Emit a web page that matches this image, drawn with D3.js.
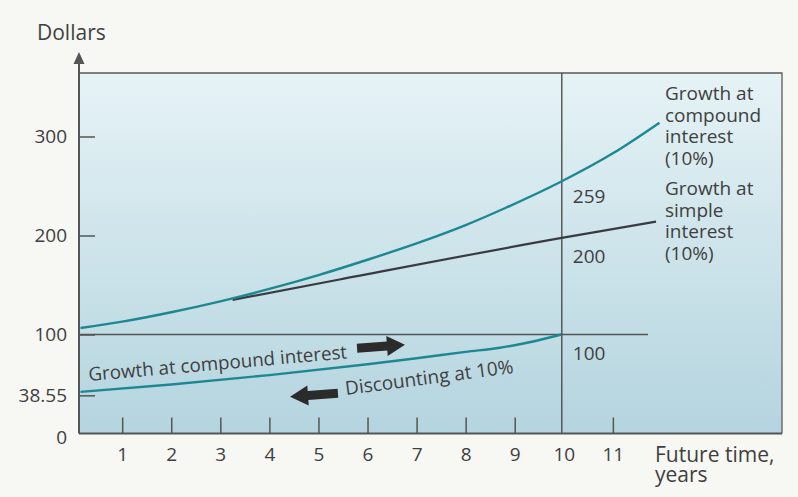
<!DOCTYPE html>
<html>
<head>
<meta charset="utf-8">
<script src="https://cdn.jsdelivr.net/npm/d3@7"></script>
<style>
  html, body { margin: 0; padding: 0; background: #f7f7f4; }
  svg { display: block; }
  text { font-family: "Open Sans", "Noto Sans", sans-serif; fill: #3f3f3f; }
</style>
</head>
<body>
<svg id="chart" width="798" height="497"></svg>
<script>
// ---------- data ----------
const xTickValues = [1, 2, 3, 4, 5, 6, 7, 8, 9, 10, 11];
const yTickValues = [0, 38.55, 100, 200, 300];
const yTickLabels = ["0", "38.55", "100", "200", "300"];

const compoundT = [0.15, 1, 2, 3, 4, 5, 6, 7, 8, 8.82, 9.93, 11, 11.95];
const compoundV = [106.5, 113, 122.5, 133.5, 146, 160, 175.5, 192, 210.5, 228, 254, 283, 314];

const simpleT = [3.25, 5.43, 9.93, 11.88];
const simpleV = [135, 155.6, 197.3, 214];

const discountT = [0.15, 2, 4, 6, 7, 8, 8.7, 9.3, 9.95];
const discountV = [42, 49.5, 59, 70, 76, 82.5, 86.6, 92.2, 100];

const horizonYear = 10;
const markerLabels = ["259", "200", "100"];

const compoundLabel = ["Growth at", "compound", "interest", "(10%)"];
const simpleLabel = ["Growth at", "simple", "interest", "(10%)"];

// ---------- layout ----------
const svg = d3.select("#chart");
const plotLeft = 79, plotRight = 782, plotTop = 73, plotBottom = 433.5;

const x = d3.scaleLinear().domain([0, 12]).range([73.1, 73.1 + 12 * 49.07]);
const y = d3.scaleLinear().domain([0, 300]).range([plotBottom, plotBottom - 297]);

// background gradient
const defs = svg.append("defs");
const grad = defs.append("linearGradient").attr("id", "bg").attr("x1", 0).attr("y1", 0).attr("x2", 0).attr("y2", 1);
grad.append("stop").attr("offset", "0%").attr("stop-color", "#e6f3f6");
grad.append("stop").attr("offset", "45%").attr("stop-color", "#cfe5eb");
grad.append("stop").attr("offset", "100%").attr("stop-color", "#b4d4df");

svg.append("rect")
  .attr("x", plotLeft).attr("y", plotTop)
  .attr("width", plotRight - plotLeft).attr("height", plotBottom - plotTop)
  .attr("fill", "url(#bg)");

// box top and right
svg.append("path")
  .attr("d", `M${plotLeft},${plotTop}H${plotRight}V${plotBottom}`)
  .attr("fill", "none").attr("stroke", "#5a5a5a").attr("stroke-width", 1.3);

// horizontal line at 100
svg.append("line")
  .attr("x1", plotLeft).attr("x2", 648)
  .attr("y1", y(100)).attr("y2", y(100))
  .attr("stroke", "#555").attr("stroke-width", 1.3);

// vertical line at horizon year
svg.append("line")
  .attr("x1", x(horizonYear) - 2).attr("x2", x(horizonYear) - 2)
  .attr("y1", plotTop).attr("y2", plotBottom)
  .attr("stroke", "#444").attr("stroke-width", 1.3);

// axes
const yAxis = d3.axisLeft(y)
  .tickValues(yTickValues)
  .tickFormat((d, i) => yTickLabels[i])
  .tickSizeInner(-16).tickSizeOuter(0).tickPadding(12);
const gy = svg.append("g").attr("transform", `translate(${plotLeft},0)`).call(yAxis);
gy.select(".domain").remove();
gy.selectAll(".tick line").attr("stroke", "#555").attr("stroke-width", 1.5);
gy.selectAll(".tick text").style("font-size", "19px").attr("fill", "#3f3f3f");
gy.selectAll(".tick").filter(d => d === 0).select("line").remove();
gy.selectAll(".tick").filter(d => d === 0).select("text").attr("dy", "0.55em");

const xAxis = d3.axisBottom(x)
  .tickValues(xTickValues)
  .tickFormat(d3.format("d"))
  .tickSizeInner(-16).tickSizeOuter(0).tickPadding(14);
const gx = svg.append("g").attr("transform", `translate(0,${plotBottom})`).call(xAxis);
gx.select(".domain").remove();
gx.selectAll(".tick line").attr("stroke", "#555").attr("stroke-width", 1.5);
gx.selectAll(".tick text").style("font-size", "19px").attr("fill", "#3f3f3f");
gx.selectAll(".tick").filter(d => d === horizonYear).select("line").remove();

// axis lines
svg.append("line")
  .attr("x1", plotLeft).attr("x2", plotRight)
  .attr("y1", plotBottom).attr("y2", plotBottom)
  .attr("stroke", "#555").attr("stroke-width", 2);
svg.append("line")
  .attr("x1", plotLeft).attr("x2", plotLeft)
  .attr("y1", plotBottom).attr("y2", 58)
  .attr("stroke", "#555").attr("stroke-width", 2);
svg.append("path")
  .attr("d", `M${plotLeft},52L${plotLeft - 5.5},64L${plotLeft + 5.5},64Z`)
  .attr("fill", "#555");

svg.append("text").attr("x", 37).attr("y", 40)
  .style("font-size", "21px").text("Dollars");

svg.append("text").attr("x", 655).attr("y", 462)
  .style("font-size", "21px").text("Future time,");
svg.append("text").attr("x", 655).attr("y", 482)
  .style("font-size", "21px").text("years");

// curves
const line = d3.line().x(d => x(d[0])).y(d => y(d[1])).curve(d3.curveMonotoneX);
const zip = (a, b) => a.map((v, i) => [v, b[i]]);

svg.append("path").datum(zip(simpleT, simpleV))
  .attr("d", line).attr("fill", "none")
  .attr("stroke", "#3a3a42").attr("stroke-width", 2.2);

svg.append("path").datum(zip(compoundT, compoundV))
  .attr("d", line).attr("fill", "none")
  .attr("stroke", "#1d8892").attr("stroke-width", 2.4);

svg.append("path").datum(zip(discountT, discountV))
  .attr("d", line).attr("fill", "none")
  .attr("stroke", "#1d8892").attr("stroke-width", 2.4);

// marker values at horizon
const markerY = [196, 256, 353];
svg.selectAll("text.marker").data(markerLabels).enter().append("text")
  .attr("class", "marker")
  .attr("x", x(horizonYear) + 9)
  .attr("y", (d, i) => markerY[i])
  .attr("dy", "0.36em")
  .style("font-size", "19px")
  .text(d => d);

// series labels
const labelG1 = svg.append("text").attr("x", 665).attr("y", 93).style("font-size", "19px");
compoundLabel.forEach((s, i) => labelG1.append("tspan").attr("x", 665).attr("dy", i === 0 ? "0.36em" : 21.7).text(s));
const labelG2 = svg.append("text").attr("x", 665).attr("y", 188).style("font-size", "19px");
simpleLabel.forEach((s, i) => labelG2.append("tspan").attr("x", 665).attr("dy", i === 0 ? "0.36em" : 21.7).text(s));

// rotated labels
svg.append("text")
  .attr("transform", "translate(89,381) rotate(-5)")
  .style("font-size", "18.8px")
  .text("Growth at compound interest");
svg.append("text")
  .attr("transform", "translate(346,395) rotate(-7.5)")
  .style("font-size", "19px")
  .text("Discounting at 10%");

// arrows
function arrow(cx, cy, dir, angle) {
  const p = "M-24,-4.5H6V-10L24,0L6,10V4.5H-24Z";
  svg.append("path")
    .attr("d", p)
    .attr("transform", `translate(${cx},${cy}) rotate(${angle}) scale(${dir},1)`)
    .attr("fill", "#2b2b2b");
}
arrow(381, 346.5, 1, -4);
arrow(314, 395, -1, -4);
</script>
</body>
</html>
